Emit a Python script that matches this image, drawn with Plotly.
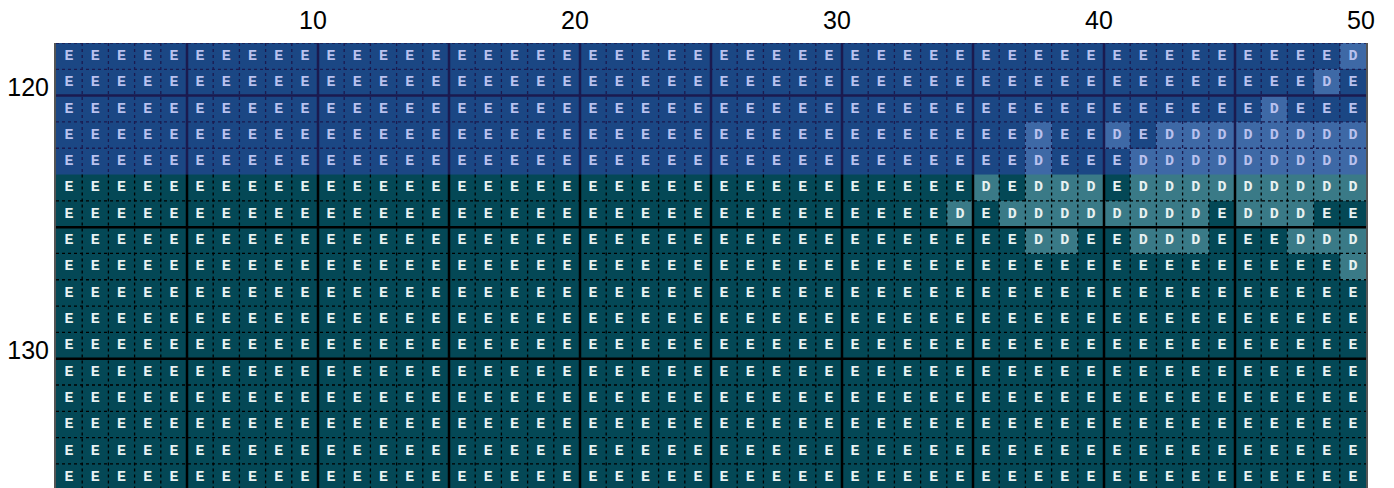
import plotly.graph_objects as go

# ---- data ----
columns = list(range(1, 51))
blue_rows = [119, 120, 121, 122, 123]
teal_rows = [124, 125, 126, 127, 128, 129, 130, 131, 132, 133, 134, 135]
x_tick_vals = [10, 20, 30, 40, 50]
y_tick_vals = [120, 130]

d_cells = {
    119: [50],
    120: [49],
    121: [47],
    122: [38, 41, 43, 44, 45, 46, 47, 48, 49, 50],
    123: [38, 42, 43, 44, 45, 46, 47, 48, 49, 50],
    124: [36, 38, 39, 40, 42, 43, 44, 45, 46, 47, 48, 49, 50],
    125: [35, 37, 38, 39, 40, 41, 42, 43, 44, 46, 47, 48],
    126: [38, 39, 42, 43, 44, 48, 49, 50],
    127: [50],
}

# ---- styles ----
BLUE_E, BLUE_D = "#1b4784", "#3e69a6"
TEAL_E, TEAL_D = "#044856", "#3a7a87"
BLUE_TXT, TEAL_TXT = "#b9c1ee", "#e8f1f1"
BLUE_LINE, TEAL_LINE = "#1b1a4f", "#000000"
LAST_ROW = teal_rows[-1]


def grid(rows):
    z, xs, ys, ts = [], [], [], []
    for r in rows:
        zr = []
        for c in columns:
            is_d = c in d_cells.get(r, [])
            zr.append(1 if is_d else 0)
            xs.append(c)
            ys.append(r)
            ts.append("D" if is_d else "E")
        z.append(zr)
    return z, xs, ys, ts


fig = go.Figure()
text_traces = []
for rows, ce, cd, tc in [(blue_rows, BLUE_E, BLUE_D, BLUE_TXT), (teal_rows, TEAL_E, TEAL_D, TEAL_TXT)]:
    z, xs, ys, ts = grid(rows)
    fig.add_trace(go.Heatmap(
        x=columns, y=rows, z=z,
        colorscale=[[0, ce], [1, cd]], zmin=0, zmax=1, showscale=False,
        hoverinfo="skip",
    ))
    text_traces.append(go.Scatter(
        x=xs, y=ys, text=ts, mode="text", showlegend=False, hoverinfo="skip",
        textfont=dict(family="Liberation Mono, Courier New, serif", size=15, color=tc, weight="bold"),
    ))

shapes = []
for rows, lc in [(blue_rows, BLUE_LINE), (teal_rows, TEAL_LINE)]:
    y0, y1 = rows[0] - 0.5, rows[-1] + 0.5
    x0, x1 = columns[0] - 0.5, columns[-1] + 0.5
    for c in columns[:-1]:
        thick = c % 5 == 0
        shapes.append(dict(type="line", xref="x", yref="y", x0=c + 0.5, x1=c + 0.5, y0=y0, y1=y1,
                           layer="above",
                           line=dict(color=lc, width=2.5 if thick else 1.3, dash="solid" if thick else "dot")))
    for r in rows:
        yb = r + 0.5
        if (r == rows[-1] and rows is blue_rows) or r == LAST_ROW:
            continue
        thick = r % 5 == 0
        shapes.append(dict(type="line", xref="x", yref="y", x0=x0, x1=x1, y0=yb, y1=yb,
                           layer="above",
                           line=dict(color=lc, width=2.5 if thick else 1.3, dash="solid" if thick else "dot")))
    if rows is blue_rows:
        shapes.append(dict(type="line", xref="x", yref="y", x0=x0, x1=x1, y0=y0, y1=y0,
                           layer="above", line=dict(color=lc, width=1.3, dash="dot")))

for tt in text_traces:
    fig.add_trace(tt)

fig.update_layout(
    width=1394, height=488,
    margin=dict(l=48, r=36, t=35, b=0),
    paper_bgcolor="white", plot_bgcolor="white",
    shapes=shapes,
    showlegend=False,
    font=dict(family="Arial, Liberation Sans, sans-serif", size=25, color="#000000"),
)
fig.update_xaxes(
    range=[0.5, 50.5], side="top", tickvals=x_tick_vals, ticktext=[str(v) for v in x_tick_vals],
    showgrid=False, zeroline=False, ticks="", showline=False, automargin=False,
    tickfont=dict(size=25, color="#000000"), ticklabelshift=8, ticklabelstandoff=8,
)
fig.update_yaxes(
    range=[135.72, 118.5], tickvals=y_tick_vals, ticktext=[str(v) for v in y_tick_vals],
    showgrid=False, zeroline=False, ticks="", showline=True, mirror=True, automargin=False,
    linecolor="#555555", linewidth=2,
    tickfont=dict(size=25, color="#000000"), ticklabelshift=-5,
)

fig.write_html("out.html")
